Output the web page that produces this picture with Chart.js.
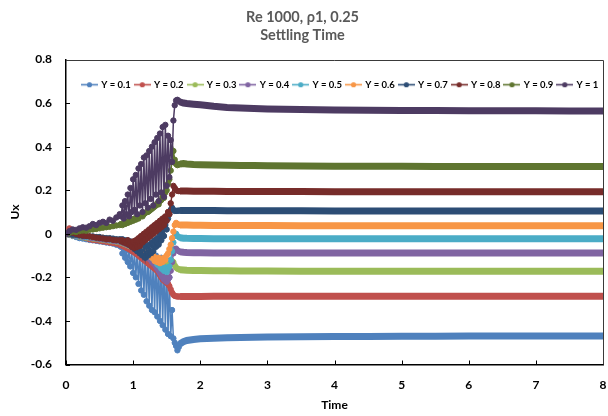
<!DOCTYPE html>
<html>
<head>
<meta charset="utf-8">
<script src="https://cdn.jsdelivr.net/npm/chart.js@4.4.0/dist/chart.umd.min.js"></script>
<style>
  html, body { margin: 0; padding: 0; background: #ffffff; }
  canvas { display: block; }
</style>
</head>
<body>
<canvas id="chart" width="608" height="416"></canvas>
<script>
// Sample times (s): coarse before the instability, fine through it, coarse once settled
const time = [
  0, 0.05, 0.1, 0.15, 0.2, 0.25, 0.3, 0.35, 0.4, 0.45, 0.5, 0.55, 0.6, 0.65, 0.7, 0.75, 0.8,
  0.82, 0.84, 0.86, 0.88, 0.9, 0.92, 0.94, 0.96, 0.98, 1.0,
  1.02, 1.04, 1.06, 1.08, 1.1, 1.12, 1.14, 1.16, 1.18, 1.2,
  1.22, 1.24, 1.26, 1.28, 1.3, 1.32, 1.34, 1.36, 1.38, 1.4,
  1.42, 1.44, 1.46, 1.48, 1.5, 1.52, 1.54, 1.56, 1.58, 1.6,
  1.62, 1.64, 1.66, 1.68, 1.7,
  1.75, 1.8, 1.9, 2, 2.2, 2.4, 2.6, 2.8, 3, 3.5, 4, 4.5, 5, 5.5, 6, 6.5, 7, 7.5, 8
];

// Ux at each probe height
const uxY01 = [
  0, -0.005, -0.01, -0.015, -0.02, -0.022, -0.025, -0.028, -0.03, -0.032, -0.035, -0.037, -0.04, -0.042, -0.045, -0.05, -0.055,
  -0.06, -0.09, -0.065, -0.11, -0.07, -0.13, -0.075, -0.15, -0.08, -0.18,
  -0.08, -0.2, -0.085, -0.23, -0.09, -0.26, -0.085, -0.28, -0.09, -0.31,
  -0.1, -0.33, -0.095, -0.35, -0.11, -0.36, -0.1, -0.38, -0.12, -0.4,
  -0.11, -0.42, -0.13, -0.44, -0.15, -0.46, -0.2, -0.47, -0.35, -0.48,
  -0.5, -0.515, -0.535, -0.52, -0.505,
  -0.495, -0.49, -0.485, -0.482, -0.479, -0.477, -0.476, -0.475, -0.474, -0.473, -0.472, -0.471, -0.47, -0.47, -0.469, -0.469, -0.469, -0.469, -0.469
];
const uxY02 = [
  0, 0.025, 0.015, 0, -0.01, -0.015, -0.02, -0.025, -0.028, -0.03, -0.032, -0.035, -0.037, -0.04, -0.042, -0.045, -0.05,
  -0.052, -0.055, -0.058, -0.06, -0.064, -0.067, -0.07, -0.074, -0.078, -0.082,
  -0.086, -0.09, -0.095, -0.1, -0.105, -0.11, -0.115, -0.12, -0.125, -0.13,
  -0.135, -0.14, -0.145, -0.15, -0.155, -0.16, -0.165, -0.17, -0.18, -0.19,
  -0.2, -0.21, -0.215, -0.22, -0.225, -0.23, -0.24, -0.255, -0.27, -0.28,
  -0.285, -0.287, -0.288, -0.288, -0.288,
  -0.288, -0.288, -0.288, -0.288, -0.287, -0.287, -0.287, -0.287, -0.287, -0.287, -0.287, -0.287, -0.287, -0.287, -0.287, -0.287, -0.287, -0.287, -0.287
];
const uxY03 = [
  0, -0.005, -0.008, -0.011, -0.014, -0.016, -0.018, -0.02, -0.022, -0.024, -0.026, -0.028, -0.03, -0.032, -0.034, -0.036, -0.038,
  -0.04, -0.042, -0.045, -0.047, -0.05, -0.052, -0.055, -0.058, -0.06, -0.063,
  -0.066, -0.07, -0.073, -0.076, -0.08, -0.083, -0.086, -0.09, -0.093, -0.096,
  -0.1, -0.104, -0.108, -0.112, -0.116, -0.12, -0.124, -0.128, -0.132, -0.136,
  -0.14, -0.135, -0.145, -0.14, -0.15, -0.145, -0.14, -0.13, -0.125, -0.13,
  -0.145, -0.155, -0.16, -0.163, -0.165,
  -0.166, -0.167, -0.168, -0.169, -0.17, -0.17, -0.171, -0.171, -0.171, -0.172, -0.172, -0.172, -0.172, -0.172, -0.172, -0.172, -0.172, -0.172, -0.172
];
const uxY04 = [
  0, -0.004, -0.007, -0.01, -0.012, -0.014, -0.016, -0.018, -0.02, -0.022, -0.024, -0.026, -0.028, -0.03, -0.032, -0.034, -0.036,
  -0.038, -0.04, -0.042, -0.045, -0.048, -0.05, -0.053, -0.056, -0.06, -0.063,
  -0.066, -0.07, -0.074, -0.078, -0.082, -0.086, -0.09, -0.095, -0.1, -0.105,
  -0.11, -0.115, -0.12, -0.128, -0.135, -0.14, -0.15, -0.16, -0.17, -0.18,
  -0.19, -0.2, -0.21, -0.2, -0.22, -0.21, -0.2, -0.17, -0.13, -0.09,
  -0.07, -0.068, -0.075, -0.08, -0.083,
  -0.085, -0.086, -0.087, -0.087, -0.088, -0.088, -0.088, -0.088, -0.088, -0.088, -0.088, -0.088, -0.088, -0.088, -0.088, -0.088, -0.088, -0.088, -0.088
];
const uxY05 = [
  0, -0.003, -0.006, -0.008, -0.01, -0.012, -0.013, -0.015, -0.016, -0.018, -0.02, -0.022, -0.024, -0.026, -0.028, -0.03, -0.032,
  -0.034, -0.036, -0.038, -0.04, -0.042, -0.045, -0.047, -0.05, -0.052, -0.055,
  -0.058, -0.06, -0.064, -0.067, -0.07, -0.074, -0.078, -0.082, -0.086, -0.09,
  -0.095, -0.1, -0.105, -0.11, -0.115, -0.12, -0.13, -0.14, -0.145, -0.15,
  -0.16, -0.15, -0.17, -0.155, -0.175, -0.16, -0.15, -0.12, -0.08, -0.04,
  -0.01, 0, -0.01, -0.015, -0.018,
  -0.02, -0.021, -0.022, -0.022, -0.023, -0.023, -0.023, -0.023, -0.023, -0.023, -0.023, -0.023, -0.023, -0.023, -0.023, -0.023, -0.023, -0.023, -0.023
];
const uxY06 = [
  0, -0.002, -0.005, -0.006, -0.008, -0.01, -0.01, -0.012, -0.014, -0.015, -0.016, -0.018, -0.02, -0.022, -0.024, -0.026, -0.028,
  -0.03, -0.032, -0.035, -0.036, -0.04, -0.04, -0.045, -0.045, -0.05, -0.05,
  -0.055, -0.06, -0.06, -0.065, -0.07, -0.07, -0.075, -0.08, -0.08, -0.085,
  -0.09, -0.095, -0.1, -0.11, -0.1, -0.125, -0.11, -0.13, -0.11, -0.135,
  -0.115, -0.13, -0.11, -0.12, -0.1, -0.09, -0.07, -0.05, -0.02, 0.01,
  0.04, 0.05, 0.045, 0.042, 0.04,
  0.04, 0.04, 0.039, 0.039, 0.038, 0.038, 0.038, 0.038, 0.038, 0.037, 0.037, 0.037, 0.037, 0.037, 0.037, 0.037, 0.037, 0.037, 0.037
];
const uxY07 = [
  0, 0, -0.005, -0.005, -0.008, -0.01, -0.01, -0.012, -0.012, -0.015, -0.015, -0.018, -0.02, -0.02, -0.022, -0.025, -0.025,
  -0.03, -0.025, -0.035, -0.03, -0.04, -0.03, -0.05, -0.035, -0.06, -0.04,
  -0.07, -0.04, -0.08, -0.045, -0.09, -0.05, -0.1, -0.05, -0.11, -0.06,
  -0.1, -0.05, -0.09, -0.04, -0.08, -0.03, -0.06, -0.02, -0.05, 0,
  -0.03, 0.02, -0.01, 0.04, 0.02, 0.07, 0.09, 0.11, 0.12, 0.11,
  0.105, 0.105, 0.106, 0.106, 0.107,
  0.107, 0.107, 0.107, 0.107, 0.107, 0.106, 0.106, 0.106, 0.106, 0.106, 0.105, 0.105, 0.105, 0.105, 0.105, 0.105, 0.105, 0.105, 0.105
];
const uxY08 = [
  0, 0.008, 0.005, 0, -0.005, -0.008, -0.01, -0.012, -0.015, -0.018, -0.02, -0.022, -0.025, -0.025, -0.028, -0.03, -0.03,
  -0.035, -0.03, -0.04, -0.035, -0.045, -0.03, -0.05, -0.04, -0.06, -0.035,
  -0.065, -0.03, -0.06, -0.02, -0.055, -0.01, -0.04, 0, -0.03, 0.01,
  -0.02, 0.02, -0.01, 0.03, 0, 0.04, 0.01, 0.05, 0.02, 0.06,
  0.03, 0.07, 0.04, 0.08, 0.06, 0.1, 0.09, 0.14, 0.18, 0.22,
  0.21, 0.2, 0.197, 0.196, 0.196,
  0.196, 0.196, 0.195, 0.195, 0.195, 0.194, 0.194, 0.194, 0.194, 0.194, 0.193, 0.193, 0.193, 0.193, 0.193, 0.193, 0.193, 0.193, 0.193
];
const uxY09 = [
  0, 0.005, 0.01, 0.008, 0.012, 0.015, 0.014, 0.018, 0.02, 0.022, 0.025, 0.028, 0.03, 0.032, 0.035, 0.038, 0.04,
  0.045, 0.04, 0.05, 0.045, 0.055, 0.05, 0.06, 0.055, 0.065, 0.06,
  0.07, 0.065, 0.075, 0.07, 0.08, 0.085, 0.08, 0.09, 0.095, 0.1,
  0.1, 0.105, 0.11, 0.115, 0.12, 0.125, 0.13, 0.14, 0.135, 0.15,
  0.155, 0.17, 0.165, 0.19, 0.2, 0.23, 0.25, 0.29, 0.33, 0.38,
  0.34, 0.32, 0.315, 0.318, 0.32,
  0.322, 0.32, 0.318, 0.317, 0.316, 0.315, 0.314, 0.313, 0.312, 0.311, 0.31, 0.31, 0.31, 0.309, 0.309, 0.309, 0.309, 0.309, 0.309
];
const uxY10 = [
  0, 0.012, 0.02, 0.018, 0.025, 0.03, 0.028, 0.035, 0.045, 0.04, 0.05, 0.055, 0.05, 0.065, 0.06, 0.075, 0.09,
  0.08, 0.13, 0.07, 0.15, 0.09, 0.18, 0.08, 0.21, 0.1, 0.25,
  0.11, 0.27, 0.09, 0.3, 0.13, 0.32, 0.1, 0.35, 0.14, 0.36,
  0.12, 0.38, 0.16, 0.4, 0.13, 0.42, 0.18, 0.44, 0.15, 0.46,
  0.19, 0.49, 0.17, 0.5, 0.22, 0.45, 0.26, 0.43, 0.33, 0.52,
  0.59, 0.612, 0.615, 0.61, 0.605,
  0.6, 0.598, 0.595, 0.592, 0.585, 0.58, 0.577, 0.575, 0.573, 0.57, 0.568, 0.567, 0.566, 0.566, 0.565, 0.565, 0.565, 0.564, 0.564
];

const seriesLabels = ['Y = 0.1', 'Y = 0.2', 'Y = 0.3', 'Y = 0.4', 'Y = 0.5',
                      'Y = 0.6', 'Y = 0.7', 'Y = 0.8', 'Y = 0.9', 'Y = 1'];
const seriesValues = [uxY01, uxY02, uxY03, uxY04, uxY05, uxY06, uxY07, uxY08, uxY09, uxY10];
const seriesColors = ['#4F81BD', '#C0504D', '#9BBB59', '#8064A2', '#4BACC6',
                      '#F79646', '#2C4D75', '#772C2A', '#5F7530', '#4D3B62'];

const SETTLED_FROM = 1.7;   // after this the trace is drawn as a solid band
const FONT = 'Lato, "Open Sans", "DejaVu Sans", sans-serif';

// legend swatch: short line with a round marker
function makeSwatch(color) {
  const c = document.createElement('canvas');
  c.width = 17; c.height = 7;
  const g = c.getContext('2d');
  g.strokeStyle = color; g.lineWidth = 1.6;
  g.beginPath(); g.moveTo(0, 3.5); g.lineTo(17, 3.5); g.stroke();
  g.fillStyle = color;
  g.beginPath(); g.arc(8.5, 3.5, 2.6, 0, Math.PI * 2); g.fill();
  return c;
}
const swatches = seriesColors.map(makeSwatch);

const datasets = seriesLabels.map((label, i) => ({
  label,
  data: time.map((t, k) => ({ x: t, y: seriesValues[i][k] })),
  borderColor: seriesColors[i],
  backgroundColor: seriesColors[i],
  pointBackgroundColor: seriesColors[i],
  pointBorderColor: seriesColors[i],
  pointBorderWidth: 1,
  pointRadius: ctx => (ctx.raw && ctx.raw.x > SETTLED_FROM ? 0 : 2.7),
  borderWidth: 1.5,
  tension: 0,
  order: seriesLabels.length - i,
  segment: {
    borderWidth: ctx => (ctx.p0.parsed.x >= SETTLED_FROM ? 7 : 1.5)
  }
}));

// legend sits inside the plot; inside tick marks plus the thin top/right frame
const frame = {
  id: 'frame',
  afterLayout(chart) {
    const lg = chart.legend, ca = chart.chartArea;
    if (!lg) return;
    lg.left = 78; lg.right = chart.width;
    lg.top = ca.top + 16; lg.bottom = lg.top + 20;
    lg.width = lg.right - lg.left; lg.height = 20;
  },
  afterDraw(chart) {
    const { ctx, chartArea: ca, scales: { x, y } } = chart;
    ctx.save();
    ctx.strokeStyle = '#000';
    ctx.lineWidth = 1;
    ctx.beginPath();
    y.ticks.forEach(t => {
      const py = Math.round(y.getPixelForValue(t.value)) + 0.5;
      ctx.moveTo(ca.left, py); ctx.lineTo(ca.left + 4, py);
    });
    x.ticks.forEach(t => {
      const px = Math.round(x.getPixelForValue(t.value)) + 0.5;
      ctx.moveTo(px, ca.bottom); ctx.lineTo(px, ca.bottom - 4);
    });
    ctx.stroke();
    ctx.strokeStyle = '#3a3a3a';
    ctx.beginPath();
    ctx.moveTo(ca.left, Math.round(ca.top) + 0.5);
    ctx.lineTo(Math.round(ca.right) + 0.5, Math.round(ca.top) + 0.5);
    ctx.lineTo(Math.round(ca.right) + 0.5, ca.bottom);
    ctx.stroke();
    ctx.restore();
  }
};

new Chart(document.getElementById('chart'), {
  type: 'line',
  data: { datasets },
  plugins: [frame],
  options: {
    responsive: false,
    animation: false,
    devicePixelRatio: 1,
    layout: { padding: { left: 0, right: 3, top: 0, bottom: 0 } },
    plugins: {
      title: {
        display: true,
        text: ['Re 1000, \u03c11, 0.25', 'Settling Time'],
        color: '#595959',
        font: { family: FONT, size: 14.5, weight: 'bold', lineHeight: '18px' },
        padding: { top: 8, bottom: 14.5 }
      },
      legend: {
        display: true,
        position: 'top',
        align: 'start',
        maxHeight: 1,
        labels: {
          usePointStyle: true,
          pointStyleWidth: 14,
          padding: 4.5,
          color: '#000',
          font: { family: FONT, size: 9.5, weight: 'bold' },
          generateLabels: chart => chart.data.datasets.map((ds, i) => ({
            text: ds.label,
            fillStyle: ds.borderColor,
            strokeStyle: ds.borderColor,
            fontColor: '#000',
            lineWidth: 0,
            pointStyle: swatches[i],
            hidden: !chart.isDatasetVisible(i),
            datasetIndex: i
          }))
        }
      },
      tooltip: { enabled: false }
    },
    scales: {
      x: {
        type: 'linear',
        min: 0, max: 8,
        afterFit: s => { s.height = 51.5; },
        grid: { display: false, drawTicks: true, tickLength: 13 },
        border: { display: true, color: '#000', width: 1.5 },
        ticks: {
          stepSize: 1, padding: 0, color: '#000',
          font: { family: FONT, size: 12, weight: 'bold' }
        },
        title: {
          display: true, text: 'Time', color: '#000',
          font: { family: FONT, size: 12, weight: 'bold' },
          padding: { top: 0, bottom: 4 }
        }
      },
      y: {
        type: 'linear',
        min: -0.6, max: 0.8,
        afterFit: s => { s.width = 66; },
        grid: { display: false, drawTicks: true, tickLength: 14 },
        border: { display: true, color: '#000', width: 1.5 },
        ticks: {
          stepSize: 0.2, padding: 0, color: '#000',
          font: { family: FONT, size: 12, weight: 'bold' },
          callback: v => String(Number(v.toFixed(1)))
        },
        title: {
          display: true, text: 'Ux', color: '#000',
          font: { family: FONT, size: 12, weight: 'bold' },
          padding: { top: 8, bottom: 0 }
        }
      }
    }
  }
});
</script>
</body>
</html>
